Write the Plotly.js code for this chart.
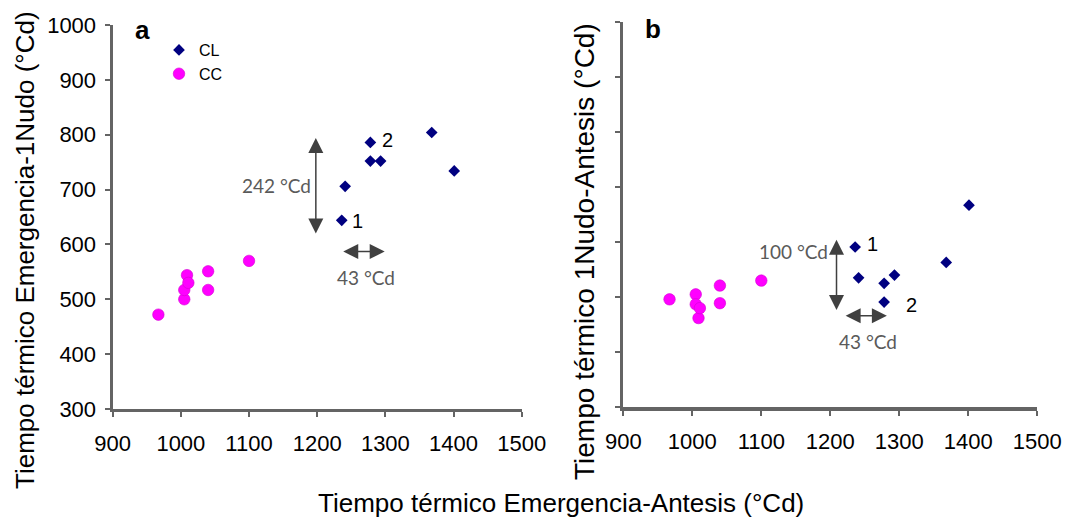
<!DOCTYPE html>
<html>
<head>
<meta charset="utf-8">
<script src="https://cdn.plot.ly/plotly-3.0.1.min.js"></script>
<style>
  html, body { margin: 0; padding: 0; background: #ffffff; }
  #chart { width: 1071px; height: 519px; }
</style>
</head>
<body>
<div id="chart"></div>
<script>
// ---- Data ----
// CL series (diamonds)
const clEmergAntesis = [1236, 1241, 1278, 1278, 1293, 1368, 1401];
const clEmerg1Nudo   = [644, 706, 786, 752, 752, 804, 734];
const cl1NudoAntesis = [591, 535, 491, 525, 540, 563, 667];
// CC series (circles)
const ccEmergAntesis = [967, 1005, 1005, 1009, 1011, 1040, 1040, 1100];
const ccEmerg1Nudo   = [472, 500, 517, 544, 530, 551, 517, 570];
const cc1NudoAntesis = [496, 505, 487, 462, 480, 489, 521, 530];

const seriesNames = ['CL', 'CC'];
const xTickVals = [900, 1000, 1100, 1200, 1300, 1400, 1500];
const yTickVals = [300, 400, 500, 600, 700, 800, 900, 1000];

const xTitle  = 'Tiempo térmico Emergencia-Antesis (°Cd)';
const yTitleA = 'Tiempo térmico Emergencia-1Nudo (°Cd)';
const yTitleB = 'Tiempo térmico 1Nudo-Antesis (°Cd)';

// ---- Styles ----
const FONT = '"Liberation Sans", Arial, sans-serif';
const NOTE_FONT = 'Lato, "Open Sans", sans-serif';
const AXIS_GRAY = '#646464';
const ARROW_GRAY = '#404040';
const NOTE_GRAY = '#5a5a5a';
const CL_COLOR = '#000080';
const CC_COLOR = '#ff00ff';

const clMarker = { symbol: 'diamond', size: 9, color: CL_COLOR, line: { width: 0 } };
const ccMarker = { symbol: 'circle', size: 11.5, color: CC_COLOR, line: { width: 0.6, color: '#d400d4' } };

const traces = [
  { type: 'scatter', mode: 'markers', name: seriesNames[0], x: clEmergAntesis, y: clEmerg1Nudo,
    xaxis: 'x', yaxis: 'y', marker: clMarker, legendgroup: 'CL', showlegend: true },
  { type: 'scatter', mode: 'markers', name: seriesNames[1], x: ccEmergAntesis, y: ccEmerg1Nudo,
    xaxis: 'x', yaxis: 'y', marker: ccMarker, legendgroup: 'CC', showlegend: true },
  { type: 'scatter', mode: 'markers', name: seriesNames[0], x: clEmergAntesis, y: cl1NudoAntesis,
    xaxis: 'x2', yaxis: 'y2', marker: clMarker, legendgroup: 'CL', showlegend: false },
  { type: 'scatter', mode: 'markers', name: seriesNames[1], x: ccEmergAntesis, y: cc1NudoAntesis,
    xaxis: 'x2', yaxis: 'y2', marker: ccMarker, legendgroup: 'CC', showlegend: false }
];

function xAxis(domain, anchor) {
  return {
    domain: domain, anchor: anchor, range: [900, 1500], tickvals: xTickVals,
    showgrid: false, zeroline: false, showline: true, linecolor: AXIS_GRAY, linewidth: 3.2,
    ticks: 'outside', ticklen: 5, tickwidth: 2, tickcolor: AXIS_GRAY,
    tickfont: { family: FONT, size: 22, color: '#000' }, ticklabelstandoff: 7,
    fixedrange: true
  };
}
function yAxis(domain, anchor, showLabels) {
  return {
    domain: domain, anchor: anchor, range: [300, 1000], tickvals: yTickVals,
    showgrid: false, zeroline: false, showline: true, linecolor: AXIS_GRAY, linewidth: 3.2,
    ticks: 'outside', ticklen: 5, tickwidth: 2, tickcolor: AXIS_GRAY,
    showticklabels: showLabels,
    tickfont: { family: FONT, size: 22, color: '#000' }, ticklabelstandoff: 4,
    fixedrange: true
  };
}

function arrow(xr, yr, x0, y0, x1, y1) {
  return {
    xref: xr, yref: yr, axref: xr, ayref: yr,
    x: x1, y: y1, ax: x0, ay: y0, text: '',
    showarrow: true, arrowhead: 2, startarrowhead: 2, arrowside: 'end+start',
    arrowsize: 2, startarrowsize: 2, arrowwidth: 1.5, arrowcolor: ARROW_GRAY,
    standoff: 0, startstandoff: 0
  };
}
function note(xr, yr, x, y, text, font) {
  return { xref: xr, yref: yr, x: x, y: y, text: text, showarrow: false,
           xanchor: 'center', yanchor: 'middle', font: font };
}

const noteFont = { family: NOTE_FONT, size: 19, color: NOTE_GRAY };
const numFont = { family: FONT, size: 20, color: '#000' };
const panelFont = { family: FONT, size: 26, color: '#000', weight: 'bold' };
const titleFontX = { family: FONT, size: 26, color: '#000' };
const titleFontA = { family: FONT, size: 26, color: '#000' };
const titleFontB = { family: FONT, size: 28, color: '#000' };

const annotations = [
  // panel letters
  note('x', 'y', 943, 990, '<b>a</b>', panelFont),
  note('x2', 'y2', 943, 986, '<b>b</b>', panelFont),
  // panel a marks
  arrow('x', 'y', 1198, 617, 1198, 794),
  arrow('x', 'y', 1236, 587, 1299, 587),
  note('x', 'y', 1141, 708, '242 °Cd', noteFont),
  note('x', 'y', 1271, 540, '43 °Cd', noteFont),
  note('x', 'y', 1259, 642, '1', numFont),
  note('x', 'y', 1303, 791, '2', numFont),
  // panel b marks
  arrow('x2', 'y2', 1209, 474, 1209, 604),
  arrow('x2', 'y2', 1220, 466, 1282, 466),
  note('x2', 'y2', 1146, 583, '100 °Cd', noteFont),
  note('x2', 'y2', 1254, 420, '43 °Cd', noteFont),
  note('x2', 'y2', 1261, 597, '1', numFont),
  note('x2', 'y2', 1317, 485, '2', numFont),
  // axis titles
  { xref: 'paper', yref: 'paper', x: 561 / 1071, y: 1 - 503 / 519, text: xTitle, showarrow: false,
    xanchor: 'center', yanchor: 'middle', font: titleFontX },
  { xref: 'paper', yref: 'paper', x: 25 / 1071, y: 1 - 250 / 519, text: yTitleA, showarrow: false,
    textangle: -90, xanchor: 'center', yanchor: 'middle', font: titleFontA },
  { xref: 'paper', yref: 'paper', x: 585 / 1071, y: 1 - 251 / 519, text: yTitleB, showarrow: false,
    textangle: -90, xanchor: 'center', yanchor: 'middle', font: titleFontB }
];

const layout = {
  width: 1071, height: 519,
  margin: { l: 0, r: 0, t: 0, b: 0, pad: 0 },
  paper_bgcolor: '#ffffff', plot_bgcolor: '#ffffff',
  font: { family: FONT, color: '#000' },
  showlegend: true,
  legend: {
    x: 159 / 1071, y: 1 - 33 / 519, xanchor: 'left', yanchor: 'top',
    bgcolor: 'rgba(0,0,0,0)', borderwidth: 0,
    font: { family: FONT, size: 16, color: '#000' },
    itemwidth: 30, tracegroupgap: 0
  },
  xaxis: xAxis([112.7 / 1071, 521.7 / 1071], 'y'),
  yaxis: yAxis([1 - 409 / 519, 1 - 25 / 519], 'x', true),
  xaxis2: xAxis([623.3 / 1071, 1037.3 / 1071], 'y2'),
  yaxis2: yAxis([1 - 407.3 / 519, 1 - 21.7 / 519], 'x2', false),
  annotations: annotations
};

Plotly.newPlot('chart', traces, layout, { staticPlot: true, displayModeBar: false });
</script>
</body>
</html>
